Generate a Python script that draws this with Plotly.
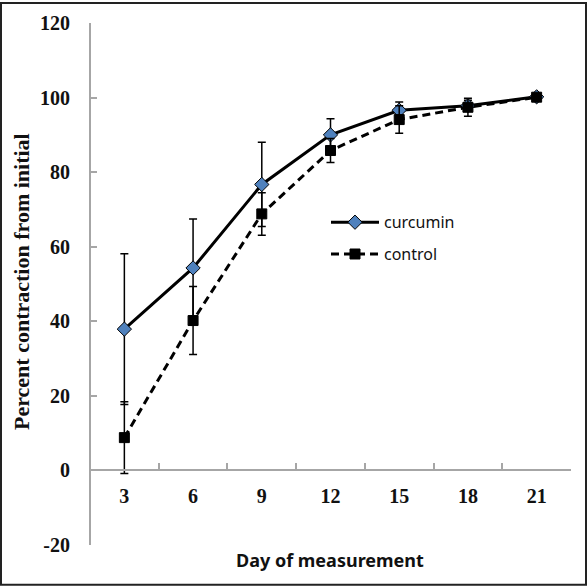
import plotly.graph_objects as go

days = [3, 6, 9, 12, 15, 18, 21]
tick_labels = ["3", "6", "9", "12", "15", "18", "21"]
curcumin = [37.9, 54.3, 76.7, 90.0, 96.6, 97.8, 100.2]
curcumin_err = [20.2, 13.1, 11.3, 4.3, 2.2, 1.5, 0.8]
control = [8.8, 40.2, 68.8, 85.8, 94.1, 97.4, 100.1]
control_err = [9.6, 9.1, 5.7, 3.2, 3.7, 2.4, 0.8]
y_ticks = [-20, 0, 20, 40, 60, 80, 100, 120]
y_tick_labels = ["-20", "0", "20", "40", "60", "80", "100", "120"]
boundaries = [1.5, 4.5, 7.5, 10.5, 13.5, 16.5, 19.5, 22.5]

W, H = 587, 586
ML, MR, MT, MB = 90, 16, 21, 41
PW, PH = W - ML - MR, H - MT - MB

def px_x(p):
    return (p - ML) / PW

def px_y(p):
    return (H - MB - p) / PH

serif = "Liberation Serif"
gray = "#a6a6a6"

fig = go.Figure()
fig.add_trace(go.Scatter(
    x=days, y=curcumin, name="curcumin", mode="lines+markers",
    line=dict(color="black", width=3),
    marker=dict(symbol="diamond", size=11, color="#4f81bd", line=dict(color="black", width=1)),
    error_y=dict(type="data", array=curcumin_err, color="black", thickness=1.5, width=4),
    legendgroup="a",
))
fig.add_trace(go.Scatter(
    x=days, y=control, name="control", mode="lines+markers",
    line=dict(color="black", width=3, dash="8px,5px"),
    marker=dict(symbol="square", size=10, color="black", line=dict(color="black", width=1)),
    error_y=dict(type="data", array=control_err, color="black", thickness=1.5, width=4),
    legendgroup="b",
))
# Invisible trace on xaxis2 so that its category labels are drawn
fig.add_trace(go.Scatter(x=days, y=[None] * len(days), xaxis="x2", showlegend=False,
                         hoverinfo="skip", mode="markers"))

fig.update_layout(
    width=W, height=H,
    margin=dict(l=ML, r=MR, t=MT, b=MB),
    paper_bgcolor="white", plot_bgcolor="white",
    showlegend=True,
    legend=dict(x=px_x(326), y=px_y(204), xanchor="left", yanchor="top",
                font=dict(family="Noto Sans", size=16, color="#111"),
                itemwidth=48,
                bgcolor="rgba(0,0,0,0)", tracegroupgap=8, traceorder="grouped"),
    xaxis=dict(range=[1.5, 22.5], tickmode="array", tickvals=boundaries,
               ticks="inside", ticklen=6, tickcolor=gray, tickwidth=2,
               showticklabels=False, showgrid=False, zeroline=False, showline=True,
               linecolor=gray, linewidth=2, anchor="free", position=1/7),
    xaxis2=dict(range=[1.5, 22.5], overlaying="x", tickmode="array", tickvals=days,
                ticktext=tick_labels, ticks="", showgrid=False, zeroline=False,
                showline=False, anchor="free", position=1/7, side="bottom",
                tickfont=dict(family=serif, size=20, color="#111", weight="bold"),
                ticklabelstandoff=12),
    yaxis=dict(range=[-20, 120], tickmode="array", tickvals=y_ticks, ticktext=y_tick_labels,
               ticks="inside", ticklen=6, tickcolor=gray, tickwidth=2,
               showgrid=False, zeroline=False, showline=True,
               linecolor=gray, linewidth=2, anchor="free", position=0,
               tickfont=dict(family=serif, size=20, color="#111", weight="bold"),
               ticklabelstandoff=15),
    annotations=[
        dict(text="<b>Percent contraction from initial</b>", xref="paper", yref="paper",
             x=px_x(21), y=px_y(281), xanchor="center", yanchor="middle",
             textangle=-90, showarrow=False,
             font=dict(family=serif, size=22, color="#111")),
        dict(text="<b>Day of measurement</b>", xref="paper", yref="paper",
             x=px_x(330), y=px_y(560), xanchor="center", yanchor="middle",
             showarrow=False,
             font=dict(family="Noto Sans", size=18, color="#111")),
    ],
    shapes=[
        dict(type="rect", xref="paper", yref="paper",
             x0=px_x(1), x1=px_x(W - 1), y0=px_y(H - 1), y1=px_y(1),
             line=dict(color="#222", width=2), fillcolor="rgba(0,0,0,0)", layer="above"),
    ],
)

fig.write_html("out.html", config={"displayModeBar": False},
               post_script="document.body.style.margin='0';")
